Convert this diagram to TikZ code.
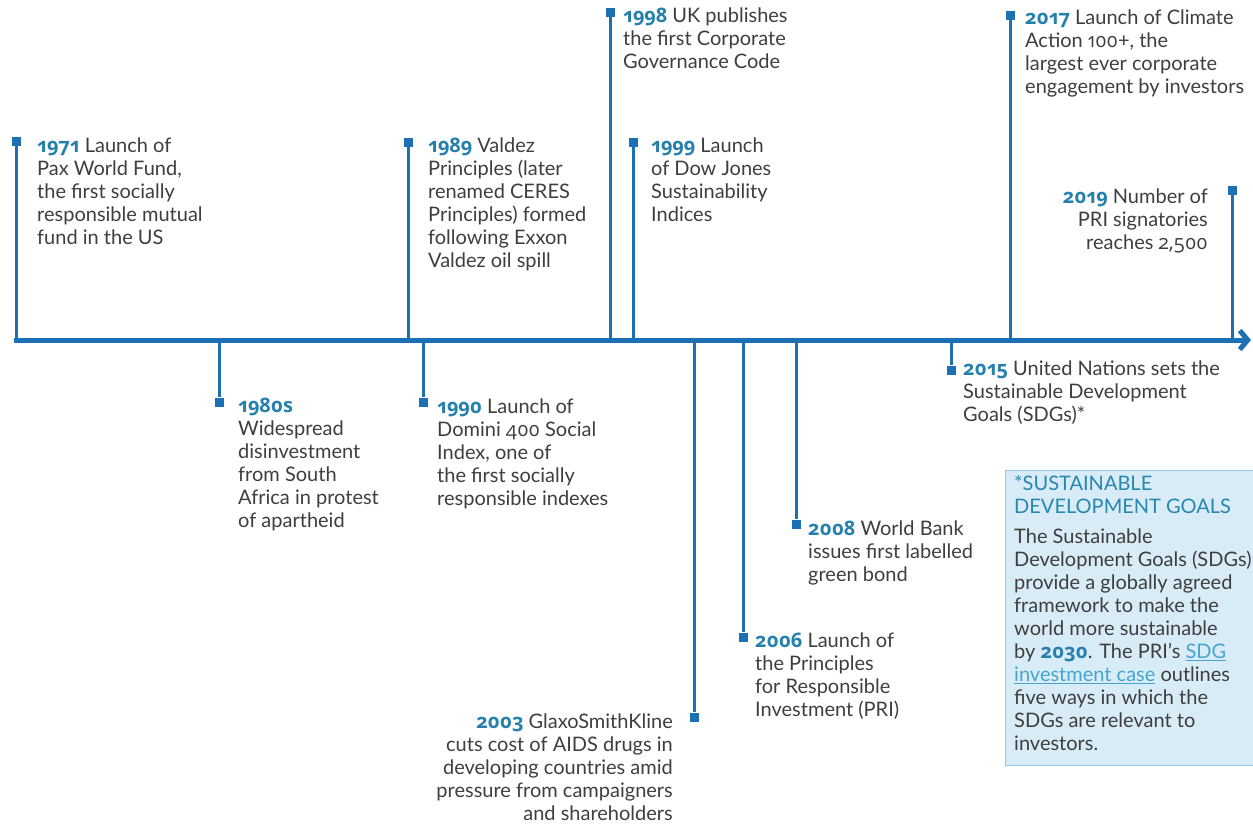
\documentclass[tikz,border=0pt]{standalone}
\usepackage{fontspec}
\setmainfont{Lato}
\newfontfamily\yrfont{Open Sans}[Numbers=OldStyle]
\usepackage{tikz}
\usetikzlibrary{arrows.meta}
\definecolor{tlblue}{RGB}{28,112,182}
\definecolor{yrblue}{RGB}{38,128,172}
\definecolor{txtgray}{RGB}{62,62,62}
\definecolor{sdgfill}{RGB}{216,236,248}
\definecolor{sdgline}{RGB}{150,200,230}
\definecolor{sdgtitle}{RGB}{40,135,175}
\definecolor{lnkblue}{RGB}{70,165,205}
\newcommand{\yr}[1]{{\yrfont\bfseries\color{yrblue}#1}}
\newcommand{\osn}[1]{{\yrfont #1}}
\newcommand{\lnk}[1]{{\color{lnkblue}\underline{#1}}}
\begin{document}
\begin{tikzpicture}[x=1pt,y=-1pt,
    sqr/.style={fill=tlblue,minimum size=9pt,inner sep=0pt},
    stem/.style={draw=tlblue,line width=3pt},
    evl/.style={anchor=north west,align=left,inner sep=0pt,text=txtgray,font=\fontsize{20}{23}\selectfont},
    evr/.style={evl,anchor=north east,align=right}]
    \useasboundingbox (0,0) rectangle (1253,825);
    \node[draw=sdgline,fill=sdgfill,line width=1.2pt,minimum width=260pt,minimum height=295pt,anchor=north west,inner sep=0pt] (sdg) at (1005,470) {};
    \node[evl,text=sdgtitle] (sdgtitle) at (1014,475.5) {*SUSTAINABLE\\DEVELOPMENT GOALS};
    \node[evl] (sdgtext) at (1014,528.5) {The Sustainable\\Development Goals (SDGs)\\provide a globally agreed\\framework to make the\\world more sustainable\\by \yr{2030}. The PRI's \lnk{SDG}\\\lnk{investment case} outlines\\five ways in which the\\SDGs are relevant to\\investors.};

    \coordinate (start) at (14,340);
    \coordinate (end) at (1251,340);
    \draw[tlblue,line width=5pt,-{Straight Barb[length=8pt,width=19pt]}] (start) -- (end);

    \node[sqr] (m71) at (16,141) {};
    \node[sqr] (m80) at (219,402) {};
    \node[sqr] (m89) at (408,142) {};
    \node[sqr] (m90) at (423,402) {};
    \node[sqr] (m98) at (610,12) {};
    \node[sqr] (m99) at (633,142) {};
    \node[sqr] (m03) at (694,717) {};
    \node[sqr] (m06) at (743,637) {};
    \node[sqr] (m08) at (796,524) {};
    \node[sqr] (m15) at (951,370) {};
    \node[sqr] (m17) at (1010,15) {};
    \node[sqr] (m19) at (1232,190) {};

    \coordinate (a71) at (16,340);
    \coordinate (a80) at (219,340);
    \coordinate (a89) at (408,340);
    \coordinate (a90) at (423,340);
    \coordinate (a98) at (610,340);
    \coordinate (a99) at (633,340);
    \coordinate (a03) at (694,340);
    \coordinate (a06) at (743,340);
    \coordinate (a08) at (796,340);
    \coordinate (a15) at (951,340);
    \coordinate (a17) at (1010,340);
    \coordinate (a19) at (1232,340);

    \path[stem] (a71) edge (m71) (a80) edge (m80) (a89) edge (m89) (a90) edge (m90);
    \path[stem] (a98) edge (m98) (a99) edge (m99) (a03) edge (m03) (a06) edge (m06);
    \path[stem] (a08) edge (m08) (a15) edge (m15) (a17) edge (m17) (a19) edge (m19);

    \node[evl] (t71) at (37,137.5) {\yr{1971} Launch of\\Pax World Fund,\\the first socially\\responsible mutual\\fund in the US};
    \node[evl] (t80) at (238,397.5) {\yr{1980s}\\Widespread\\disinvestment\\from South\\Africa in protest\\of apartheid};
    \node[evl] (t89) at (428,137.5) {\yr{1989} Valdez\\Principles (later\\renamed CERES\\Principles) formed\\following Exxon\\Valdez oil spill};
    \node[evl] (t90) at (437,398.5) {\yr{1990} Launch of\\Domini \osn{400} Social\\Index, one of\\the first socially\\responsible indexes};
    \node[evl] (t98) at (623,7.5) {\yr{1998} UK publishes\\the first Corporate\\Governance Code};
    \node[evl] (t99) at (651,137.5) {\yr{1999} Launch\\of Dow Jones\\Sustainability\\Indices};
    \node[evr] (t03) at (673,713.5) {\yr{2003} GlaxoSmithKline\\cuts cost of AIDS drugs in\\developing countries amid\\pressure from campaigners\\and shareholders};
    \node[evl] (t06) at (755,632.5) {\yr{2006} Launch of\\the Principles\\for Responsible\\Investment (PRI)};
    \node[evl] (t08) at (808,520.5) {\yr{2008} World Bank\\issues first labelled\\green bond};
    \node[evl] (t15) at (963,360.5) {\yr{2015} United Nations sets the\\Sustainable Development\\Goals (SDGs)*};
    \node[evl] (t17) at (1025,9.5) {\yr{2017} Launch of Climate\\Action \osn{100}+, the\\largest ever corporate\\engagement by investors};
    \node[evr] (t19) at (1208,188.5) {\yr{2019} Number of\\PRI signatories\\reaches \osn{2,500}};
\end{tikzpicture}
\end{document}
